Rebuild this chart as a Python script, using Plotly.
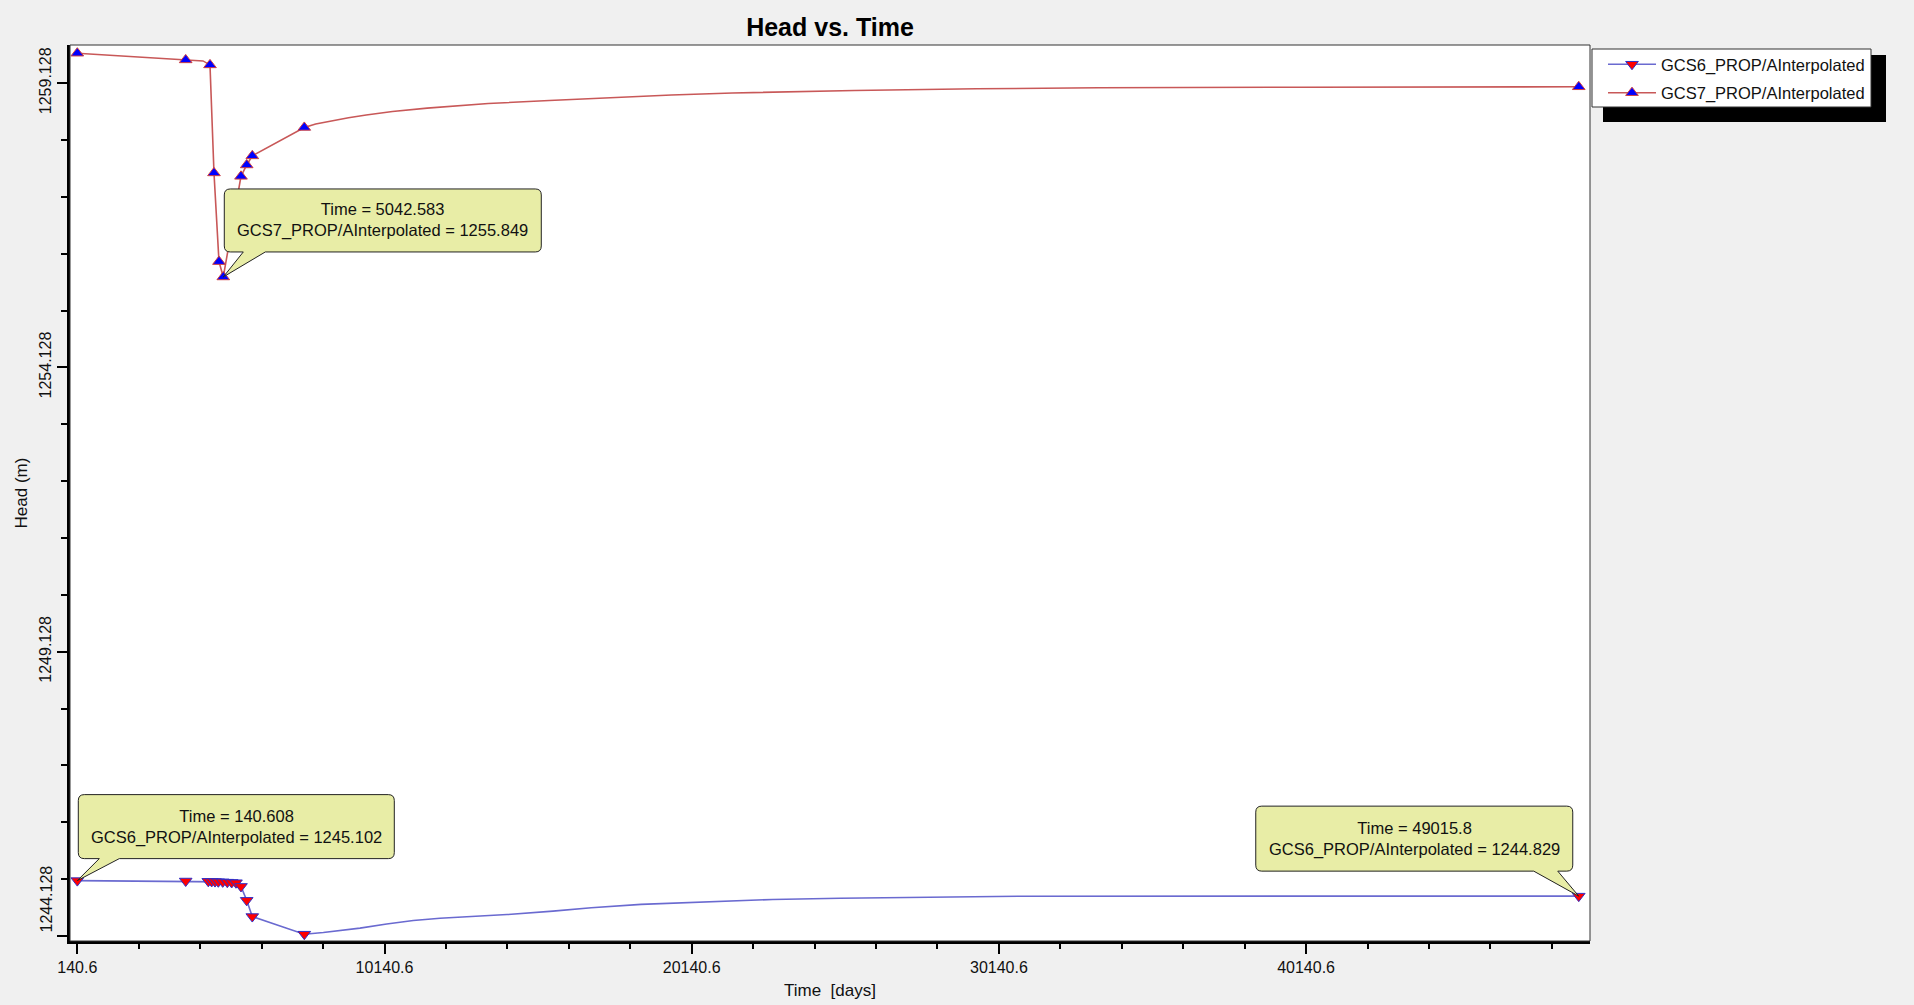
import plotly.graph_objects as go

# ---------------- data ----------------
# GCS6 observation points (markers)
gcs6_obs_time = [140.608, 3669, 4405, 4515, 4623, 4730, 4874, 5023, 5166, 5306,
                 5469, 5655, 5837, 7530, 49015.8]
gcs6_obs_head = [1245.102, 1245.095, 1245.09, 1245.088, 1245.085, 1245.082, 1245.08,
                 1245.075, 1245.07, 1245.065, 1245.0, 1244.755, 1244.47, 1244.16, 1244.829]
# GCS6 interpolated line
gcs6_line_time = [140.608, 3669, 4405, 4515, 4623, 4730, 4874, 5023, 5166, 5306,
                  5469, 5655, 5837, 7530, 8149, 8799, 9343, 10212, 11078, 11947,
                  14131, 15626, 16872, 18490, 21104, 22774, 24968, 28327, 31000, 49015.8]
gcs6_line_head = [1245.102, 1245.095, 1245.09, 1245.088, 1245.085, 1245.082, 1245.08,
                  1245.075, 1245.07, 1245.065, 1245.0, 1244.755, 1244.47, 1244.16,
                  1244.19, 1244.225, 1244.267, 1244.34, 1244.40, 1244.44, 1244.505,
                  1244.565, 1244.625, 1244.685, 1244.74, 1244.77, 1244.792, 1244.815,
                  1244.828, 1244.829]

# GCS7 observation points (markers)
gcs7_obs_time = [140.608, 3669, 4460, 4590, 4753, 4893, 5469, 5655, 5837, 7530, 49015.8]
gcs7_obs_head = [1259.656, 1259.538, 1259.45, 1257.55, 1255.99, 1255.72, 1257.49,
                 1257.69, 1257.85, 1258.35, 1259.065]
# GCS7 interpolated line
gcs7_line_time = [140.608, 3669, 4232, 4460, 4590, 4753, 4893, 5469, 5655, 5837, 7530,
                  7900, 8354, 8969, 9545, 10400, 11530, 12500, 13519, 15505, 17494,
                  19480, 21465, 25440, 29415, 33386, 40000, 49015.8]
gcs7_line_head = [1259.656, 1259.538, 1259.52, 1259.45, 1257.55, 1255.99, 1255.72,
                  1257.49, 1257.69, 1257.85, 1258.35, 1258.41, 1258.46, 1258.52, 1258.57,
                  1258.63, 1258.69, 1258.735, 1258.77, 1258.825, 1258.875, 1258.92,
                  1258.955, 1259.0, 1259.03, 1259.048, 1259.058, 1259.065]

series_names = ["GCS6_PROP/AInterpolated", "GCS7_PROP/AInterpolated"]

x_tick_vals = [140.6, 10140.6, 20140.6, 30140.6, 40140.6]
x_tick_text = ["140.6", "10140.6", "20140.6", "30140.6", "40140.6"]
y_tick_vals = [1244.128, 1249.128, 1254.128, 1259.128]
y_tick_text = ["1244.128", "1249.128", "1254.128", "1259.128"]

# callouts: (series index, index into that series' observation arrays) and their label values
callouts = [(1, 5), (0, 0), (0, 14)]
callout_time_labels = ["5042.583", "140.608", "49015.8"]
callout_head_labels = ["1255.849", "1245.102", "1244.829"]

# ---------------- layout geometry ----------------
W, H = 1914, 1005
L, R, T, B = 70, 1590, 45, 941   # plot area in pixels


def px_x(p):
    return (p - L) / (R - L)


def px_y(p):
    return (B - p) / (B - T)


FONT = "Liberation Sans, Arial, sans-serif"
BLUE_LINE = "#6A6AD0"
RED_LINE = "#C85858"
CALLOUT_FILL = "#E8EDA6"

fig = go.Figure()

obs = [(gcs6_obs_time, gcs6_obs_head), (gcs7_obs_time, gcs7_obs_head)]
lines = [(gcs6_line_time, gcs6_line_head), (gcs7_line_time, gcs7_line_head)]
line_colors = [BLUE_LINE, RED_LINE]
marker_styles = [
    dict(symbol="triangle-down", size=11, color="#FF0000", line=dict(color="#3030C8", width=1)),
    dict(symbol="triangle-up", size=11, color="#0000FF", line=dict(color="#D04040", width=1)),
]

for i in range(2):
    fig.add_trace(go.Scatter(x=lines[i][0], y=lines[i][1], mode="lines",
                             line=dict(color=line_colors[i], width=1.6),
                             showlegend=False, hoverinfo="skip"))
for i in range(2):
    fig.add_trace(go.Scatter(x=obs[i][0], y=obs[i][1], mode="markers",
                             marker=marker_styles[i], showlegend=False))
# legend entries (line + marker)
for i in range(2):
    fig.add_trace(go.Scatter(x=[None], y=[None], mode="lines+markers",
                             name=series_names[i], legendgroup=f"g{i}",
                             line=dict(color=line_colors[i], width=1.6),
                             marker=marker_styles[i]))

shapes = []
annotations = []

# plot frame (thin top/right border)
shapes.append(dict(type="rect", xref="paper", yref="paper", x0=0, x1=1, y0=0, y1=1,
                   line=dict(color="#333333", width=1), layer="above"))

# legend shadow and frame
shapes.append(dict(type="rect", xref="paper", yref="paper",
                   x0=px_x(1603), x1=px_x(1886), y0=px_y(122), y1=px_y(55),
                   fillcolor="black", line=dict(width=0), layer="above"))
shapes.append(dict(type="rect", xref="paper", yref="paper",
                   x0=px_x(1592), x1=px_x(1871), y0=px_y(107), y1=px_y(49),
                   fillcolor="white", line=dict(color="#333333", width=1), layer="above"))


def callout_path(bx0, bx1, by0, by1, tb0, tb1, r=6):
    # pixel offsets relative to the tip (y positive up)
    return (f"M0,0 L{tb1},{by0} L{bx1 - r},{by0} Q{bx1},{by0} {bx1},{by0 + r} "
            f"L{bx1},{by1 - r} Q{bx1},{by1} {bx1 - r},{by1} L{bx0 + r},{by1} "
            f"Q{bx0},{by1} {bx0},{by1 - r} L{bx0},{by0 + r} Q{bx0},{by0} {bx0 + r},{by0} "
            f"L{tb0},{by0} Z")


callout_geom = [
    (1, 318, 25, 88, 20, 42),
    (1, 317, 22, 86, 22, 42),
    (-323, -6, 25, 90, -45, -21),
]

for k, ((si, idx), (bx0, bx1, by0, by1, tb0, tb1)) in enumerate(zip(callouts, callout_geom)):
    t = obs[si][0][idx]
    h = obs[si][1][idx]
    shapes.append(dict(type="path", xref="x", yref="y", xsizemode="pixel", ysizemode="pixel",
                       xanchor=t, yanchor=h,
                       path=callout_path(bx0, bx1, by0, by1, tb0, tb1),
                       fillcolor=CALLOUT_FILL, line=dict(color="#222222", width=1),
                       layer="above"))
    annotations.append(dict(x=t, y=h, xref="x", yref="y",
                            xshift=(bx0 + bx1) / 2, yshift=(by0 + by1) / 2,
                            text=(f"Time = {callout_time_labels[k]}<br>"
                                  f"{series_names[si]} = {callout_head_labels[k]}"),
                            showarrow=False, xanchor="center", yanchor="middle",
                            font=dict(family=FONT, size=16.5, color="#111111")))

# bottom y tick label (clamped inside the axis, as in the reference)
annotations.append(dict(x=px_x(45.5), y=y_tick_vals[0], xref="paper", yref="y",
                        yshift=37, text=y_tick_text[0], textangle=-90, showarrow=False,
                        xanchor="center", yanchor="middle",
                        font=dict(family=FONT, size=16, color="#111111")))

fig.update_layout(
    width=W, height=H,
    margin=dict(l=L, r=W - R, t=T, b=H - B, pad=0, autoexpand=False),
    paper_bgcolor="#F0F0F0", plot_bgcolor="white",
    font=dict(family=FONT, size=16, color="#111111"),
    title=dict(text="<b>Head vs. Time</b>", x=((L + R) / 2) / W,
               xanchor="center", y=1 - 27 / H, yanchor="middle",
               font=dict(family=FONT, size=25, color="#000000")),
    showlegend=True,
    legend=dict(x=px_x(1603), y=px_y(47), xanchor="left", yanchor="top",
                bgcolor="rgba(0,0,0,0)", borderwidth=0,
                font=dict(family=FONT, size=16.5, color="#111111"),
                itemwidth=48, tracegroupgap=4),
    shapes=shapes,
    annotations=annotations,
)

fig.update_xaxes(
    range=[-97, 49382], showgrid=False, zeroline=False, automargin=False,
    showline=True, linecolor="black", linewidth=2.5,
    ticks="outside", ticklen=10, tickwidth=1.5, tickcolor="black",
    tickvals=x_tick_vals, ticktext=x_tick_text,
    tickfont=dict(family=FONT, size=16, color="#111111"),
    minor=dict(ticks="outside", ticklen=5, tickwidth=1.5, tickcolor="black",
               tick0=140.6, dtick=2000, showgrid=False),
    title=dict(text="Time\u00a0 [days]", standoff=10,
               font=dict(family=FONT, size=17, color="#111111")),
)

fig.update_yaxes(
    range=[1244.04, 1259.80], showgrid=False, zeroline=False, automargin=False,
    showline=True, linecolor="black", linewidth=2.5,
    ticks="outside", ticklen=10, tickwidth=1.5, tickcolor="black",
    tickvals=y_tick_vals, ticktext=[""] + y_tick_text[1:], tickangle=-90,
    tickfont=dict(family=FONT, size=16, color="#111111"),
    minor=dict(ticks="outside", ticklen=6, tickwidth=1.5, tickcolor="black",
               tick0=1244.128, dtick=1, showgrid=False),
    title=dict(text="Head (m)", standoff=5,
               font=dict(family=FONT, size=17, color="#111111")),
)

fig.write_html("out.html", config={"displayModeBar": False},
               post_script="document.body.style.margin='0px';document.body.style.overflow='hidden';")
